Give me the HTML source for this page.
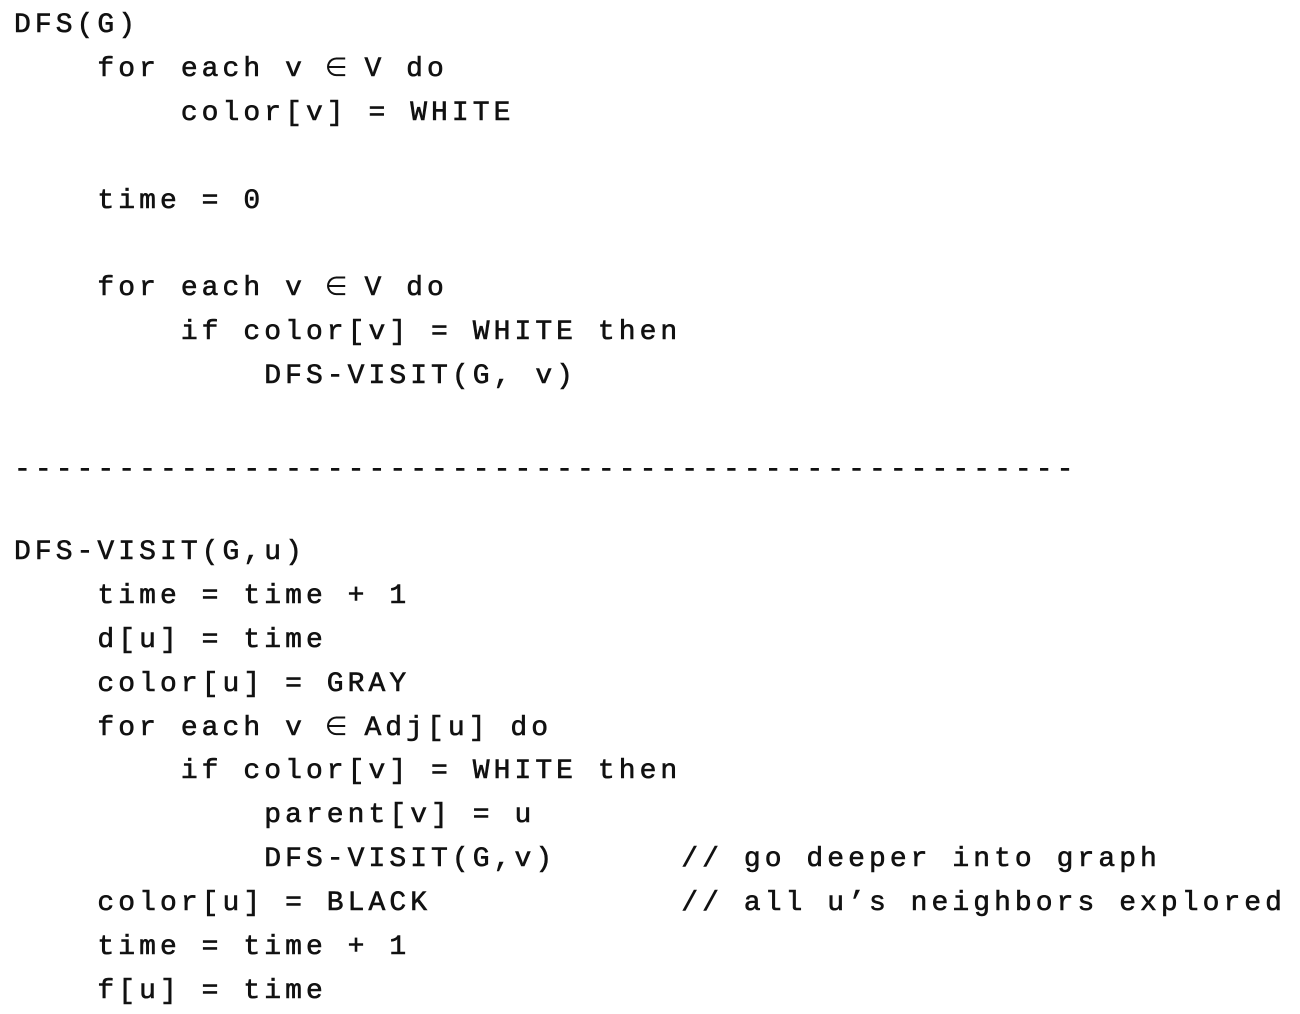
<!DOCTYPE html>
<html><head><meta charset="utf-8"><style>
html,body{margin:0;padding:0;background:#fff;width:1300px;height:1010px;overflow:hidden}
pre{position:absolute;left:14px;top:4px;margin:0;font-family:"Liberation Mono","DejaVu Sans Mono",monospace;font-size:28px;letter-spacing:4.05px;line-height:43.9px;color:#111;-webkit-text-stroke:0.6px #111}
.e{display:inline-block;width:16.8px;line-height:10px;vertical-align:baseline;text-align:center;font-family:"DejaVu Sans",sans-serif;font-size:26px;-webkit-text-stroke:0;position:relative;left:-2px}
.d{position:relative;top:6px}
</style></head><body>
<pre>DFS(G)
    for each v <span class="e">∈</span> V do
        color[v] = WHITE

    time = 0

    for each v <span class="e">∈</span> V do
        if color[v] = WHITE then
            DFS-VISIT(G, v)

<span class="d">---------------------------------------------------</span>

DFS-VISIT(G,u)
    time = time + 1
    d[u] = time
    color[u] = GRAY
    for each v <span class="e">∈</span> Adj[u] do
        if color[v] = WHITE then
            parent[v] = u
            DFS-VISIT(G,v)      // go deeper into graph
    color[u] = BLACK            // all u’s neighbors explored
    time = time + 1
    f[u] = time</pre>
</body></html>
